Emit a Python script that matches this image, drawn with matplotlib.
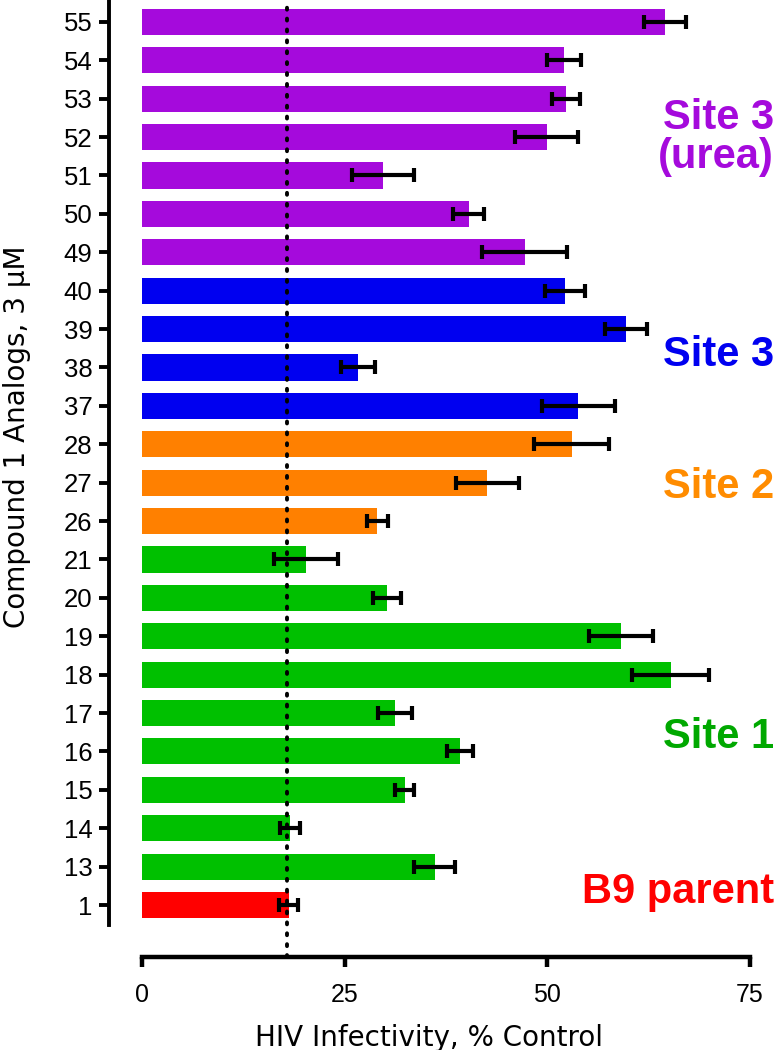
import matplotlib
matplotlib.use("Agg")
import matplotlib.pyplot as plt
from matplotlib.transforms import blended_transform_factory

compounds = ["1", "13", "14", "15", "16", "17", "18", "19", "20", "21",
             "26", "27", "28", "37", "38", "39", "40",
             "49", "50", "51", "52", "53", "54", "55"]
values = [18.1, 36.1, 18.3, 32.4, 39.2, 31.2, 65.2, 59.1, 30.2, 20.2,
          29.0, 42.6, 53.0, 53.8, 26.6, 59.7, 52.2,
          47.2, 40.3, 29.7, 49.9, 52.3, 52.0, 64.5]
errors = [1.2, 2.55, 1.25, 1.2, 1.6, 2.05, 4.8, 3.9, 1.75, 3.95,
          1.3, 3.85, 4.6, 4.5, 2.1, 2.55, 2.5,
          5.2, 1.9, 3.8, 3.9, 1.7, 2.1, 2.6]
groups = ["parent"] + ["site1"] * 9 + ["site2"] * 3 + ["site3"] * 4 + ["urea"] * 7
parent_level = 17.9

bar_colors = {"parent": "#FF0000", "site1": "#00C000", "site2": "#FF8000",
              "site3": "#0000F0", "urea": "#A50ADC"}
text_colors = {"parent": "#FF0000", "site1": "#00A800", "site2": "#FF8C00",
               "site3": "#0000F0", "urea": "#A50ADC"}

W, H = 780, 1050
fig = plt.figure(figsize=(W / 100, H / 100), dpi=100)
ax = fig.add_axes([109 / W, 1 - 925 / H, (750 - 109) / W, 925 / H])

ypos = list(range(len(compounds)))
cols = [bar_colors[g] for g in groups]
ax.barh(ypos, values, height=0.68, color=cols, zorder=2)
ax.errorbar(values, ypos, xerr=errors, fmt="none", ecolor="black",
            elinewidth=3, capsize=5, capthick=3, zorder=3)

ax.set_xlim(-4.07, 75)
ax.set_ylim(-0.52, 23.57)

ax.axvline(parent_level, ymin=-0.0346, ymax=1, color="black", lw=2.8,
           linestyle=(0, (0.5, 2.3)), dash_capstyle="round", clip_on=False, zorder=4)

for s in ["top", "right"]:
    ax.spines[s].set_visible(False)
ax.spines["left"].set_linewidth(2.8)
ax.spines["bottom"].set_linewidth(3.2)
ax.spines["bottom"].set_position(("outward", 23))
ax.spines["bottom"].set_bounds(0, 75)

ax.set_yticks(ypos)
ax.set_yticklabels(compounds, family="Liberation Sans", fontsize=18.5)
ax.set_xticks([0, 25, 50, 75])
ax.set_xticklabels(["0", "25", "50", "75"], family="Liberation Sans", fontsize=18)
ax.tick_params(axis="y", length=7, width=2.8, pad=5)
ax.tick_params(axis="x", length=7, width=3.2, pad=12)

ax.set_xlabel("HIV Infectivity, % Control", family="DejaVu Sans", fontsize=20, labelpad=12)
fig.text(17 / W, 1 - 437 / H, "Compound 1 Analogs, 3 µM", rotation=90,
         family="DejaVu Sans", fontsize=20, ha="center", va="center")

tr = blended_transform_factory(fig.transFigure, ax.transData)
fam = ["Liberation Sans Narrow", "Liberation Sans"]
labels = [("Site 3", 20.22, "urea"), ("(urea)", 19.2, "urea"),
          ("Site 3", 14.05, "site3"), ("Site 2", 10.59, "site2"),
          ("Site 1", 4.09, "site1"), ("B9 parent", 0.05, "parent")]
for txt, yv, g in labels:
    ax.text(0.992, yv, txt, transform=tr, ha="right", va="baseline",
            family=fam, fontweight="bold", fontsize=30, color=text_colors[g],
            clip_on=False)

fig.savefig("out.png", dpi=100)
